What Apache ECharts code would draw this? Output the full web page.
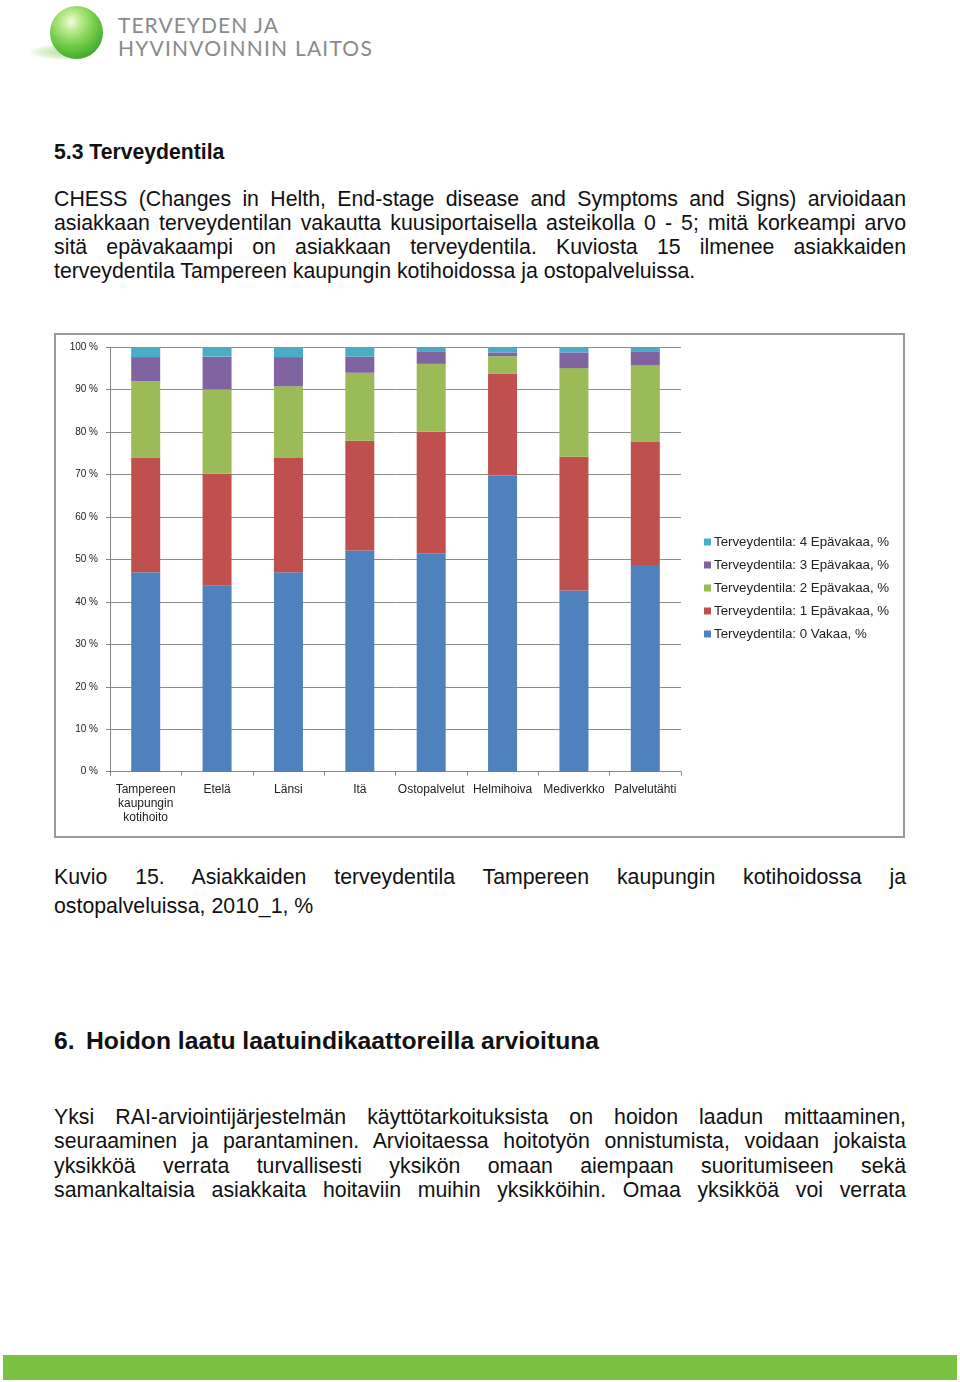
<!DOCTYPE html>
<html>
<head>
<meta charset="utf-8">
<script src="https://cdn.jsdelivr.net/npm/echarts@6.0.0/dist/echarts.min.js"></script>
<style>
  html, body { margin: 0; padding: 0; background: #fff; }
  body { width: 960px; height: 1382px; position: relative; overflow: hidden; font-family: "Liberation Sans", Arial, sans-serif; color: #111; }
  .abs { position: absolute; }
  .line { position: absolute; left: 54px; white-space: nowrap; font-size: 21.3px; line-height: 24px; }
  .h1 { font-weight: bold; font-size: 21.2px; line-height: 24px; }
  .h2 { font-weight: bold; font-size: 24.7px; line-height: 27px; }
  #sphere { left: 50px; top: 6px; width: 53px; height: 53px; border-radius: 50%;
    background: radial-gradient(circle at 40% 30%, #f0fde0 0%, #b8ea8c 20%, #6fcb45 50%, #38a428 82%, #2a8a1f 100%); }
  #shadow { left: 30px; top: 44px; width: 62px; height: 16px; border-radius: 50%;
    background: radial-gradient(ellipse at 60% 50%, rgba(120,190,80,0.55) 0%, rgba(150,210,110,0.25) 55%, rgba(255,255,255,0) 75%); }
  .logo { left: 118px; font-family: Lato, "Open Sans", sans-serif; color: #8a8a8a; font-size: 21px; line-height: 24px; white-space: nowrap; }
  #frame { left: 54px; top: 333px; width: 851px; height: 505px; box-sizing: border-box; border: 2px solid #9a9a9a; }
  #chart { left: 0; top: 320px; width: 960px; height: 540px; }
  #greenbar { left: 3px; top: 1355px; width: 954px; height: 25px; background: #7cc242; }
</style>
</head>
<body>
<div id="shadow" class="abs"></div>
<div id="sphere" class="abs"></div>
<div class="abs logo" id="logo1" style="top:13px;">TERVEYDEN JA</div>
<div class="abs logo" id="logo2" style="top:36px;">HYVINVOINNIN LAITOS</div>

<div class="line h1" style="top:140px;">5.3 Terveydentila</div>

<span class="line jl" style="top:187px;">CHESS (Changes in Helth, End-stage disease and Symptoms and Signs) arvioidaan</span>
<span class="line jl" style="top:211px;">asiakkaan terveydentilan vakautta kuusiportaisella asteikolla 0 - 5; mitä korkeampi arvo</span>
<span class="line jl" style="top:235px;">sitä epävakaampi on asiakkaan terveydentila. Kuviosta 15 ilmenee asiakkaiden</span>
<span class="line" style="top:259px;">terveydentila Tampereen kaupungin kotihoidossa ja ostopalveluissa.</span>

<div id="frame" class="abs"></div>
<div id="chart" class="abs"></div>

<span class="line jl" style="top:865px;">Kuvio 15. Asiakkaiden terveydentila Tampereen kaupungin kotihoidossa ja</span>
<span class="line" style="top:894px;">ostopalveluissa, 2010_1, %</span>

<div class="line h2" style="top:1027px;"><span style="display:inline-block;width:32px;">6.</span>Hoidon laatu laatuindikaattoreilla arvioituna</div>

<span class="line jl" style="top:1105px;">Yksi RAI-arviointijärjestelmän käyttötarkoituksista on hoidon laadun mittaaminen,</span>
<span class="line jl" style="top:1129px;">seuraaminen ja parantaminen. Arvioitaessa hoitotyön onnistumista, voidaan jokaista</span>
<span class="line jl" style="top:1154px;">yksikköä verrata turvallisesti yksikön omaan aiempaan suoritumiseen sekä</span>
<span class="line jl" style="top:1178px;">samankaltaisia asiakkaita hoitaviin muihin yksikköihin. Omaa yksikköä voi verrata</span>

<div id="greenbar" class="abs"></div>

<script>
// ---- data ----
const categories = ['Tampereen\nkaupungin\nkotihoito', 'Etelä', 'Länsi', 'Itä', 'Ostopalvelut', 'Helmihoiva', 'Mediverkko', 'Palvelutähti'];
const seriesNames = ['Terveydentila: 0 Vakaa, %', 'Terveydentila: 1 Epävakaa, %', 'Terveydentila: 2 Epävakaa, %', 'Terveydentila: 3 Epävakaa, %', 'Terveydentila: 4 Epävakaa, %'];
const vakaa0    = [47.0, 43.8, 47.0, 52.1, 51.5, 69.8, 42.7, 48.7];
const epavakaa1 = [26.9, 26.4, 26.9, 25.9, 28.6, 24.0, 31.5, 29.0];
const epavakaa2 = [18.1, 19.9, 16.9, 16.0, 16.0, 4.1, 20.9, 18.1];
const epavakaa3 = [5.7, 7.7, 6.9, 3.8, 2.8, 0.9, 3.7, 3.1];
const epavakaa4 = [2.3, 2.2, 2.3, 2.2, 1.1, 1.2, 1.2, 1.1];
const yTicks = [0, 10, 20, 30, 40, 50, 60, 70, 80, 90, 100];

// ---- justify text lines ----
document.querySelectorAll('.jl').forEach(el => {
  el.style.wordSpacing = '0px';
  const w = el.getBoundingClientRect().width;
  const n = (el.textContent.match(/ /g) || []).length;
  if (n > 0) el.style.wordSpacing = ((852 - w) / n) + 'px';
});
function fitLetters(id, target) {
  const el = document.getElementById(id);
  const w = el.getBoundingClientRect().width;
  const n = el.textContent.length;
  el.style.letterSpacing = ((target - w) / n) + 'px';
}
fitLetters('logo1', 161);
fitLetters('logo2', 255);

// ---- chart ----
const colors = ['#4f81bd', '#c0504d', '#9bbb59', '#8064a2', '#4bacc6'];
const values = [vakaa0, epavakaa1, epavakaa2, epavakaa3, epavakaa4];
const chart = echarts.init(document.getElementById('chart'), null, { renderer: 'canvas' });
chart.setOption({
  animation: false,
  color: colors,
  grid: { left: 110, top: 27.3, width: 571, height: 424.4, outerBoundsMode: 'none', containLabel: false },
  legend: {
    orient: 'vertical',
    left: 699,
    top: 210,
    itemWidth: 7,
    itemHeight: 7,
    itemGap: 9,
    icon: 'rect',
    data: seriesNames.slice().reverse(),
    textStyle: { fontFamily: 'Liberation Sans, Arial', fontSize: 13.3, lineHeight: 14, color: '#222', padding: [0, 0, 0, -2] }
  },
  xAxis: {
    type: 'category',
    data: categories,
    axisLine: { show: true, lineStyle: { color: '#868686', width: 1 } },
    axisTick: { show: true, length: 4, lineStyle: { color: '#868686' } },
    axisLabel: { interval: 0, margin: 11, fontFamily: 'Liberation Sans, Arial', fontSize: 12, lineHeight: 14, color: '#222' },
    splitLine: { show: false }
  },
  yAxis: {
    type: 'value',
    min: 0, max: 100, interval: 10,
    axisLine: { show: true, lineStyle: { color: '#868686', width: 1 } },
    axisTick: { show: true, inside: false, length: 4, lineStyle: { color: '#868686' } },
    axisLabel: { margin: 12, fontFamily: 'Liberation Sans, Arial', fontSize: 10, color: '#222', formatter: v => v + ' %' },
    splitLine: { show: true, lineStyle: { color: '#8c8c8c', width: 1 } }
  },
  series: seriesNames.map((name, i) => ({
    name: name,
    type: 'bar',
    stack: 'total',
    barWidth: 29,
    data: values[i],
    itemStyle: { color: colors[i] }
  }))
});
</script>
</body>
</html>
